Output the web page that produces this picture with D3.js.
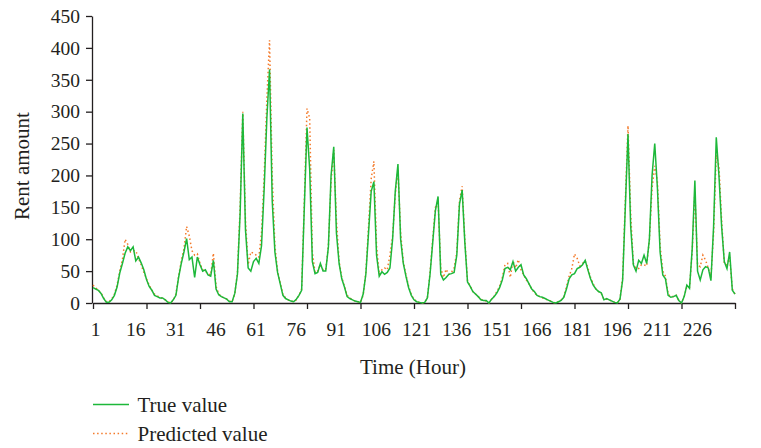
<!DOCTYPE html>
<html>
<head>
<meta charset="utf-8">
<script src="https://cdn.jsdelivr.net/npm/d3@7/dist/d3.min.js"></script>
<style>
  body { margin: 0; background: #fff; }
  svg { display: block; }
  .axis text { font-family: "Liberation Serif", "DejaVu Serif", serif; font-size: 19.5px; fill: #231f20; }
  .axis path, .axis line { stroke: #231f20; stroke-width: 1.3; }
  .label { font-family: "Liberation Serif", "DejaVu Serif", serif; font-size: 21px; fill: #231f20; }
</style>
</head>
<body>
<div id="chart"></div>
<script>
// hourly rent amounts, hours 1..241
const trueValues = [
  24, 22, 20, 15, 7, 1, 1, 5, 12, 25,
  47, 62, 78, 88, 82, 88, 66, 72, 63, 52,
  37, 26, 20, 12, 10, 8, 8, 5, 1, 0,
  5, 12, 40, 62, 80, 101, 68, 72, 40, 72,
  60, 50, 52, 44, 42, 67, 22, 13, 10, 8,
  6, 2, 2, 15, 45, 140, 297, 115, 55, 50,
  65, 70, 62, 90, 180, 290, 366, 160, 80, 48,
  30, 12, 7, 5, 3, 2, 6, 12, 20, 150,
  275, 210, 65, 46, 48, 62, 50, 50, 88, 200,
  245, 110, 62, 38, 25, 10, 7, 5, 3, 2,
  1, 14, 45, 110, 175, 190, 75, 42, 49, 45,
  48, 55, 100, 175, 218, 100, 62, 42, 24, 12,
  5, 2, 1, 0, 1, 8, 45, 95, 145, 167,
  45, 36, 40, 45, 46, 48, 75, 155, 177, 95,
  33, 26, 18, 14, 10, 5, 4, 4, 0, 6,
  10, 16, 24, 36, 54, 56, 52, 65, 50, 56,
  60, 44, 38, 30, 22, 18, 12, 10, 9, 7,
  5, 3, 1, 0, 2, 4, 9, 22, 38, 44,
  46, 54, 56, 60, 67, 52, 38, 28, 22, 18,
  16, 5, 7, 5, 3, 1, 0, 6, 36, 150,
  265, 120, 60, 50, 67, 62, 75, 62, 100, 200,
  250, 180, 80, 44, 38, 12, 9, 10, 12, 4,
  0, 10, 28, 23, 85, 192, 50, 36, 52, 57,
  55, 35, 120, 260, 200, 120, 65, 54, 80, 20, 14
];

const predictedValues = [
  28, 24, 20, 16, 8, 2, 2, 6, 14, 28,
  50, 68, 100, 92, 80, 82, 82, 70, 60, 48,
  38, 28, 20, 14, 11, 9, 7, 5, 2, 0,
  4, 14, 42, 66, 85, 120, 105, 82, 75, 77,
  62, 52, 50, 46, 44, 78, 26, 14, 10, 8,
  6, 3, 2, 14, 48, 150, 300, 130, 60, 80,
  78, 75, 72, 110, 200, 320, 412, 200, 90, 50,
  32, 14, 8, 5, 3, 2, 5, 12, 22, 160,
  305, 290, 80, 48, 50, 60, 52, 52, 90, 190,
  240, 130, 65, 40, 26, 12, 8, 5, 3, 2,
  1, 12, 48, 120, 195, 222, 90, 45, 52, 55,
  52, 75, 105, 170, 210, 110, 65, 44, 26, 13,
  6, 2, 1, 0, 1, 8, 48, 100, 150, 160,
  55, 40, 53, 45, 48, 55, 80, 160, 183, 100,
  35, 27, 18, 14, 10, 6, 4, 3, 0, 6,
  11, 18, 26, 40, 60, 62, 40, 66, 55, 68,
  52, 44, 36, 30, 22, 16, 12, 10, 8, 6,
  5, 3, 1, 0, 2, 5, 10, 25, 42, 54,
  77, 70, 58, 62, 66, 55, 40, 30, 22, 18,
  15, 6, 6, 5, 3, 1, 0, 6, 40, 160,
  278, 140, 62, 54, 54, 60, 60, 58, 100, 180,
  215, 190, 90, 50, 42, 14, 10, 10, 12, 4,
  0, 10, 26, 25, 80, 175, 60, 57, 75, 67,
  55, 40, 110, 232, 215, 130, 62, 60, 72, 22, 14
];

const xLabelTicks = d3.range(1, 227, 15);   // 1, 16, ..., 226
const xMarkTicks = d3.range(1, 242, 20);    // tick marks every 20 hours
const yTicks = d3.range(0, 451, 50);

const seriesInfo = [
  { name: 'True value', values: trueValues, color: '#1db83a', dash: null },
  { name: 'Predicted value', values: predictedValues, color: '#f47a2a', dash: '1.5,2.6' }
];

const width = 761;
const height = 448;

const svg = d3.select('#chart').append('svg')
  .attr('width', width)
  .attr('height', height);

const x = d3.scaleLinear().domain([1, 241]).range([93, 735]);
const y = d3.scaleLinear().domain([0, 450]).range([303, 16]);

// x axis: marks and labels sit on different intervals
svg.append('g')
  .attr('class', 'axis')
  .attr('transform', 'translate(0,303)')
  .call(d3.axisBottom(x).tickValues(xMarkTicks).tickSize(6).tickSizeOuter(0).tickFormat(''));

svg.append('g')
  .attr('class', 'axis')
  .attr('transform', 'translate(2,303)')
  .call(d3.axisBottom(x).tickValues(xLabelTicks).tickSize(0).tickPadding(19))
  .call(g => g.select('.domain').remove());

svg.append('g')
  .attr('class', 'axis')
  .attr('transform', 'translate(92,0)')
  .call(d3.axisLeft(y).tickValues(yTicks).tickSize(6).tickSizeOuter(0).tickPadding(6));

const line = d3.line()
  .x((d, i) => x(i + 1))
  .y(d => y(d));

// predicted first, true value on top
seriesInfo.slice().reverse().forEach(s => {
  svg.append('path')
    .datum(s.values)
    .attr('fill', 'none')
    .attr('stroke', s.color)
    .attr('stroke-width', 1.5)
    .attr('stroke-dasharray', s.dash)
    .attr('d', line);
});

svg.append('text')
  .attr('class', 'label')
  .attr('x', 413)
  .attr('y', 374)
  .attr('text-anchor', 'middle')
  .text('Time (Hour)');

svg.append('text')
  .attr('class', 'label')
  .attr('transform', 'translate(29,166) rotate(-90)')
  .attr('text-anchor', 'middle')
  .text('Rent amount');

// legend
const legend = svg.append('g').attr('transform', 'translate(93,404.5)');
seriesInfo.forEach((s, i) => {
  const row = legend.append('g').attr('transform', `translate(0,${i * 29})`);
  row.append('line')
    .attr('x1', 0).attr('x2', 36)
    .attr('stroke', s.color)
    .attr('stroke-width', 1.5)
    .attr('stroke-dasharray', s.dash);
  row.append('text')
    .attr('class', 'label')
    .attr('x', 44.5)
    .attr('y', 7)
    .text(s.name);
});
</script>
</body>
</html>
